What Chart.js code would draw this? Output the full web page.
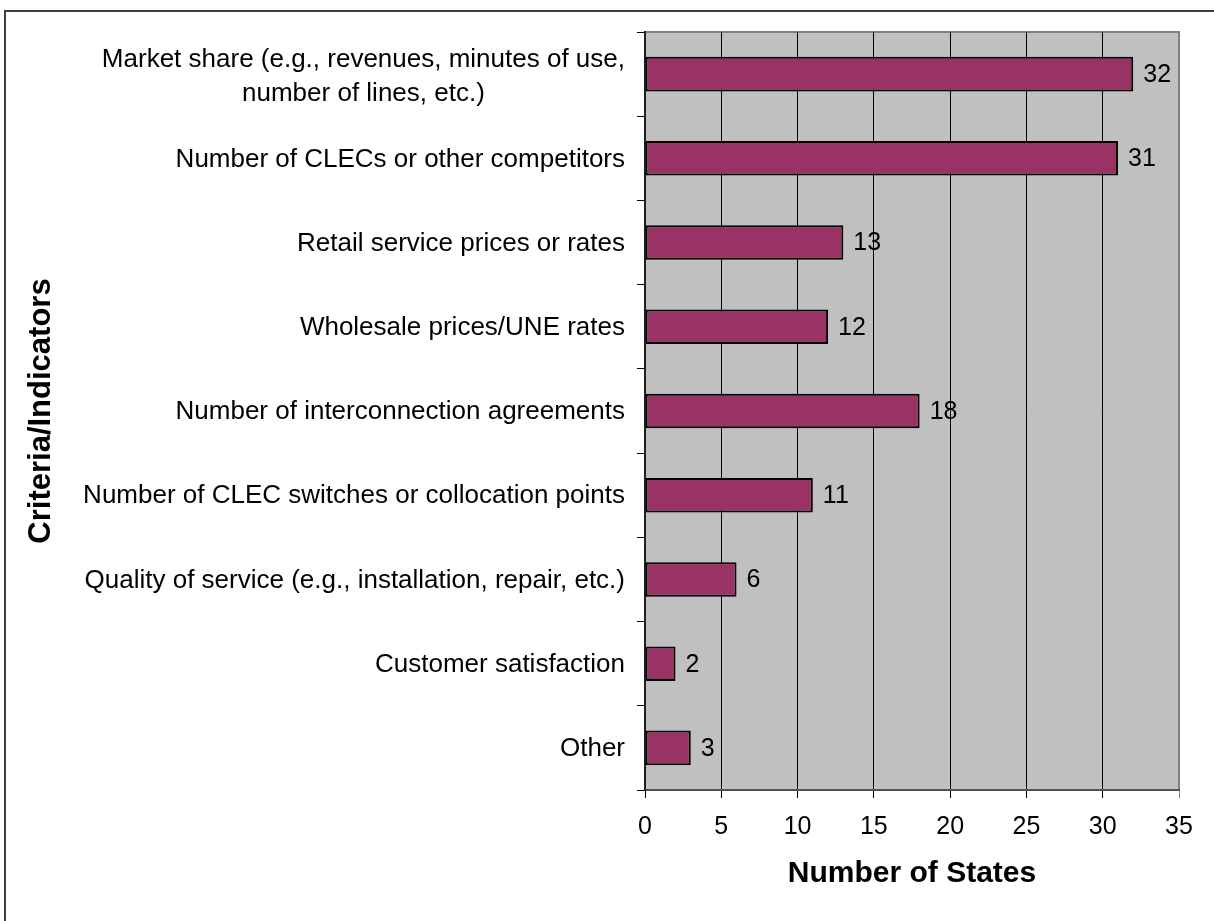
<!DOCTYPE html>
<html>
<head>
<meta charset="utf-8">
<script src="https://cdn.jsdelivr.net/npm/chart.js@4/dist/chart.umd.min.js"></script>
<style>
  html, body { margin: 0; padding: 0; background: #fff; overflow: hidden; }
  #frame {
    position: absolute; left: 4px; top: 10px; width: 1400px; height: 1100px;
    border-left: 2px solid #404040; border-top: 2px solid #404040;
  }
  #chart { position: absolute; left: 0; top: 0; }
</style>
</head>
<body>
<div id="frame"></div>
<canvas id="chart" width="1214" height="921"></canvas>
<script>
// criteria used by states, count of states naming each one
const categories = [
  ["Market share (e.g., revenues, minutes of use,", "number of lines, etc.)"],
  "Number of CLECs or other competitors",
  "Retail service prices or rates",
  "Wholesale prices/UNE rates",
  "Number of interconnection agreements",
  "Number of CLEC switches or collocation points",
  "Quality of service (e.g., installation, repair, etc.)",
  "Customer satisfaction",
  "Other"
];
const stateCounts = [32, 31, 13, 12, 18, 11, 6, 2, 3];
const xTicks = [0, 5, 10, 15, 20, 25, 30, 35];

const FONT = "'Liberation Sans', Arial, sans-serif";

// gray plot background plus the lighter top/right frame
const plotBackground = {
  id: 'plotBackground',
  beforeDraw(chart) {
    const { ctx, chartArea: a } = chart;
    ctx.save();
    ctx.fillStyle = '#C0C0C0';
    ctx.fillRect(a.left, a.top, a.right - a.left, a.bottom - a.top);
    ctx.strokeStyle = '#808080';
    ctx.lineWidth = 2;
    ctx.beginPath();
    ctx.moveTo(a.left, a.top);
    ctx.lineTo(a.right, a.top);
    ctx.lineTo(a.right, a.bottom);
    ctx.stroke();
    ctx.restore();
  }
};

// value printed just past the end of each bar
const barValues = {
  id: 'barValues',
  afterDatasetsDraw(chart) {
    const { ctx } = chart;
    const meta = chart.getDatasetMeta(0);
    ctx.save();
    ctx.font = '25px ' + FONT;
    ctx.fillStyle = '#000';
    ctx.textAlign = 'left';
    ctx.textBaseline = 'middle';
    meta.data.forEach((bar, i) => {
      ctx.fillText(String(stateCounts[i]), bar.x + 10, bar.y + 1);
    });
    ctx.restore();
  }
};

// category labels: right aligned block, lines centred inside the block
const categoryLabels = {
  id: 'categoryLabels',
  afterDraw(chart) {
    const { ctx } = chart;
    const scale = chart.scales.y;
    const rightEdge = scale.right - 8 - 12;
    const lineH = 34;
    ctx.save();
    ctx.font = '26px ' + FONT;
    ctx.fillStyle = '#000';
    ctx.textAlign = 'center';
    ctx.textBaseline = 'middle';
    categories.forEach((label, i) => {
      const lines = Array.isArray(label) ? label : [label];
      const blockW = Math.max(...lines.map(l => ctx.measureText(l).width));
      const cx = rightEdge - blockW / 2;
      const cy = scale.getPixelForTick(i) + (lines.length > 1 ? 3 : 1);
      lines.forEach((l, j) => {
        ctx.fillText(l, cx, cy + (j - (lines.length - 1) / 2) * lineH);
      });
    });
    ctx.restore();
  }
};

new Chart(document.getElementById('chart'), {
  type: 'bar',
  data: {
    labels: categories,
    datasets: [{
      data: stateCounts,
      backgroundColor: '#993366',
      borderColor: '#000',
      borderWidth: 2,
      borderSkipped: false,
      barPercentage: 0.41,
      categoryPercentage: 1
    }]
  },
  options: {
    indexAxis: 'y',
    responsive: false,
    devicePixelRatio: 1,
    animation: false,
    layout: { padding: { top: 32, right: 35, bottom: 0, left: 0 } },
    plugins: { legend: { display: false }, tooltip: { enabled: false } },
    scales: {
      x: {
        min: 0,
        max: 35,
        afterBuildTicks: (axis) => { axis.ticks = xTicks.map(v => ({ value: v })); },
        afterFit: (axis) => { axis.height = 131; },
        grid: {
          color: (c) => (c.tick && c.tick.value === 35 ? '#808080' : '#000'),
          lineWidth: 1,
          tickLength: 8
        },
        border: { color: '#505050', width: 2 },
        ticks: { font: { family: FONT, size: 25 }, color: '#000', padding: 14, maxRotation: 0 },
        title: {
          display: true,
          text: 'Number of States',
          font: { family: FONT, size: 30, weight: 'bold' },
          color: '#000',
          padding: { top: 0, bottom: 29 }
        }
      },
      y: {
        afterFit: (axis) => { axis.width = 645; },
        grid: {
          offset: true,
          drawOnChartArea: false,
          color: '#000',
          lineWidth: 1,
          tickLength: 8
        },
        border: { color: '#202020', width: 2 },
        ticks: { font: { family: FONT, size: 25 }, color: 'transparent', autoSkip: false },
        title: {
          display: true,
          text: 'Criteria/Indicators',
          font: { family: FONT, size: 31, weight: 'bold' },
          color: '#000',
          padding: { top: 23, bottom: 0 }
        }
      }
    }
  },
  plugins: [plotBackground, barValues, categoryLabels]
});
</script>
</body>
</html>
